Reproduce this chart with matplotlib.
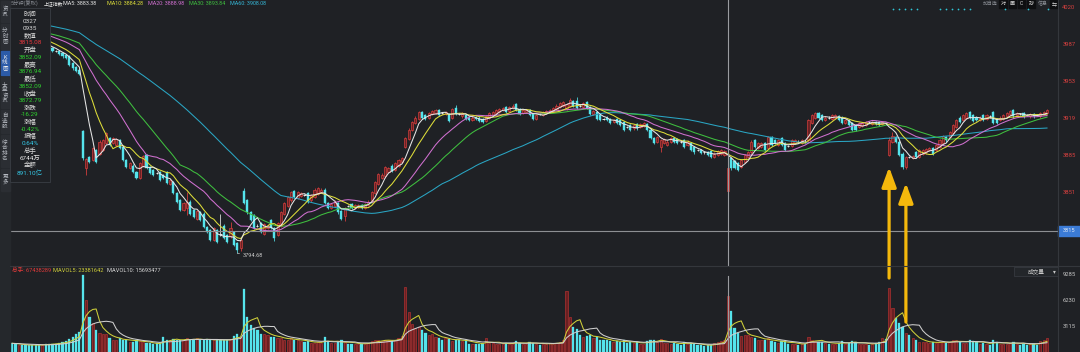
import numpy as np
import pandas as pd
import matplotlib
matplotlib.use("Agg")
import matplotlib.pyplot as plt
from matplotlib.patches import Rectangle
from matplotlib.transforms import blended_transform_factory

plt.rcParams['font.family'] = ['Roboto', 'Noto Sans CJK SC', 'DejaVu Sans']

# ---------------- data ----------------
# closes / volumes before the first drawn candle (only used to seed the moving averages)
hist_close = [4018, 4016, 4015, 4017, 4014, 4012, 4013, 4011, 4010, 4012, 4014, 4013, 4011, 4009, 4008,
              4010, 4012, 4011, 4009, 4007, 4008, 4010, 4009, 4007, 4006, 4005, 4007, 4008, 4006, 4004,
              4004, 4002, 4001, 4003, 4000, 3999, 4000, 3998, 3997, 3996,
              4003, 4001, 4000, 4002, 3999, 3998, 4000, 3997]
hist_volume = [1100, 1050, 1000, 1150, 1000, 950, 1050, 1000, 1100, 1000]

open_ = [
    3997, 3996.5, 3994.5, 3996, 3994.5, 3993, 3991.5, 3990, 3988.5, 3985, 3986,
    3985, 3983, 3980, 3980, 3978, 3976, 3975, 3969, 3965, 3963,
    3907, 3873, 3883, 3880, 3889, 3886, 3889, 3896, 3900, 3896, 3894, 3898, 3892, 3880, 3873, 3875,
    3869, 3864, 3875, 3885, 3874, 3871, 3868, 3869, 3866, 3869, 3858, 3860, 3850, 3843, 3834, 3836,
    3842, 3834, 3826, 3832, 3831, 3819, 3816, 3807, 3816, 3812, 3820, 3811, 3810, 3814, 3804, 3799,
    3852, 3843, 3832, 3830, 3820, 3822, 3812, 3818, 3825, 3818, 3811, 3820, 3831, 3838, 3843, 3852,
    3845, 3847, 3848, 3850, 3843, 3846, 3849, 3851, 3853, 3841, 3836, 3838, 3841, 3833, 3829, 3838,
    3840, 3836, 3837, 3839, 3836, 3839, 3842, 3850, 3858, 3864, 3865, 3869, 3875, 3871, 3875, 3878,
    3892, 3899, 3908, 3914, 3918, 3924, 3921, 3919, 3922, 3923, 3926, 3923, 3922, 3922, 3919, 3928,
    3922, 3920, 3921, 3919, 3917, 3919, 3919, 3918, 3916, 3919, 3921, 3923, 3924, 3926, 3929, 3925,
    3928, 3931, 3927, 3923, 3924, 3926, 3922, 3918, 3922, 3921, 3923, 3924, 3925, 3927, 3929, 3930,
    3927, 3930, 3934, 3934, 3930, 3929, 3933, 3929, 3922, 3924, 3921, 3918, 3919, 3918, 3915, 3918,
    3917, 3915, 3910, 3912, 3909, 3913, 3910, 3911, 3913, 3908, 3900, 3897, 3892, 3896, 3894, 3897,
    3900, 3899, 3897, 3898, 3894, 3896, 3892, 3889, 3889.5, 3887, 3887, 3888, 3883, 3885, 3886, 3885,
    3852.09, 3882, 3879, 3877, 3874, 3878, 3883, 3887, 3898, 3891, 3892, 3896, 3891, 3901, 3898, 3894,
    3900, 3896, 3893, 3893, 3896, 3897, 3896, 3897, 3898, 3914, 3919, 3923, 3921, 3917, 3919, 3918,
    3919, 3920, 3919, 3914, 3917, 3914, 3912, 3910, 3911, 3912, 3915, 3913, 3915, 3915, 3913, 3914,
    3885, 3897, 3901, 3897, 3886, 3874, 3883, 3882, 3887, 3883, 3886, 3887, 3889, 3891, 3889, 3892,
    3896, 3901, 3901, 3905, 3910, 3919, 3917, 3919, 3924, 3921, 3919, 3917, 3921, 3918, 3920, 3924,
    3918, 3917, 3918, 3920, 3922, 3926, 3921, 3922, 3923, 3921, 3920, 3922, 3921, 3920, 3922, 3923,
]
high = [
    3998, 3997, 3997, 3997, 3995, 3994, 3992, 3991, 3989, 3987, 3987,
    3986, 3984, 3981, 3981, 3979, 3977, 3976, 3970, 3966, 3964,
    3908, 3882, 3884, 3892, 3890, 3898, 3899, 3906, 3901, 3901, 3900, 3899, 3893, 3881, 3878, 3876,
    3870, 3878, 3885, 3886, 3875, 3872, 3869, 3870, 3867, 3870, 3863, 3861, 3851, 3844, 3842, 3851,
    3843, 3835, 3834, 3833, 3832, 3820, 3817, 3819, 3817, 3831, 3821, 3812, 3823, 3815, 3805, 3808,
    3854, 3844, 3833, 3831, 3821, 3823, 3822, 3821, 3826, 3819, 3823, 3833, 3842, 3847, 3852, 3853,
    3852, 3851, 3849, 3851, 3849, 3854, 3855, 3854, 3854, 3842, 3841, 3843, 3842, 3834, 3837, 3839,
    3841, 3840, 3840, 3840, 3841, 3843, 3852, 3861, 3868, 3868, 3875, 3874, 3876, 3878, 3881, 3883,
    3901, 3909, 3916, 3920, 3925, 3925, 3922, 3924, 3926, 3927, 3927, 3924, 3925, 3923, 3928, 3930.5,
    3923, 3924, 3922, 3920, 3920, 3920, 3920, 3919, 3921, 3924, 3925, 3927, 3928, 3929, 3930, 3930,
    3931, 3932, 3928, 3927, 3927, 3927, 3923, 3922, 3923, 3925, 3926, 3927, 3929, 3931, 3933, 3934,
    3932, 3937, 3935, 3938, 3931, 3933, 3934, 3930, 3926, 3925, 3922, 3919, 3920, 3919, 3918, 3919,
    3918, 3916, 3911, 3913, 3913, 3914, 3914, 3915, 3914, 3909, 3901, 3902, 3899, 3900, 3898, 3901,
    3901, 3900, 3898, 3899, 3898, 3897, 3893, 3890, 3890, 3888, 3888, 3889, 3887, 3889, 3890, 3889,
    3876.94, 3883, 3880, 3878, 3881, 3886, 3888, 3898, 3899, 3897, 3897, 3897, 3902, 3902, 3899, 3899,
    3901, 3897, 3894, 3899, 3899, 3898, 3899, 3898, 3918, 3922, 3924, 3924, 3922, 3920, 3920, 3922,
    3922, 3921, 3920, 3918, 3918, 3915, 3913, 3915, 3915, 3916, 3916, 3916, 3916, 3916, 3916, 3915,
    3901, 3906, 3902, 3898, 3887, 3884, 3884, 3885, 3888, 3890, 3890, 3891, 3892, 3892, 3895, 3899,
    3903, 3902, 3907, 3913, 3918, 3920, 3922, 3924, 3925, 3922, 3920, 3920, 3922, 3922, 3921, 3925,
    3919, 3920, 3922, 3924, 3926, 3927, 3924, 3923, 3924, 3922, 3923, 3923, 3922, 3924, 3925, 3927,
]
low = [
    3995, 3994, 3994, 3993, 3992, 3990, 3989, 3987, 3986, 3984, 3983,
    3981, 3979, 3979, 3976, 3974, 3973, 3966, 3963, 3961, 3958,
    3880, 3866, 3877, 3879, 3877, 3885, 3888, 3895, 3893, 3895, 3893, 3890, 3879, 3873, 3872, 3868,
    3863, 3863, 3874, 3872, 3867, 3865, 3867, 3861, 3863, 3858, 3857, 3849, 3841, 3833, 3833, 3830,
    3830, 3827, 3825, 3824, 3818, 3813, 3806, 3806, 3804, 3810, 3808, 3804, 3809, 3801, 3794.68, 3797,
    3840, 3831, 3824, 3817, 3819, 3813, 3811, 3817, 3817, 3806, 3810, 3819, 3830, 3837, 3842, 3845,
    3844, 3846, 3847, 3841, 3842, 3845, 3848, 3850, 3840, 3835, 3835, 3837, 3831, 3825, 3824, 3837,
    3835, 3835, 3836, 3835, 3835, 3838, 3841, 3849, 3857, 3863, 3864, 3868, 3869, 3870, 3874, 3877,
    3891, 3898, 3907, 3913, 3917, 3918, 3917, 3918, 3921, 3922, 3920, 3922, 3921, 3915, 3918, 3921,
    3921, 3919, 3917, 3916, 3916, 3917, 3915, 3914, 3915, 3918, 3920, 3922, 3923, 3925, 3923, 3924,
    3927, 3925, 3921, 3922, 3923, 3920, 3917, 3917, 3921, 3920, 3922, 3923, 3924, 3926, 3928, 3929,
    3926, 3929, 3929, 3927, 3929, 3928, 3927, 3921, 3921, 3917, 3916, 3917, 3916, 3913, 3914, 3913,
    3911, 3907, 3909, 3907, 3908, 3908, 3909, 3910, 3907, 3899, 3895, 3896, 3887, 3895, 3893, 3896,
    3896, 3895, 3896, 3891, 3893, 3888, 3886, 3888, 3886, 3886, 3884, 3882, 3882, 3884, 3885, 3884,
    3852.09, 3871, 3872, 3870, 3873, 3877, 3882, 3886, 3891, 3890, 3891, 3888, 3890, 3893, 3895, 3893,
    3893, 3888, 3892, 3892, 3895, 3896, 3895, 3896, 3897, 3913, 3918, 3918, 3916, 3916, 3918, 3917,
    3918, 3916, 3913, 3913, 3911, 3907, 3907, 3909, 3910, 3911, 3914, 3912, 3912, 3911, 3912, 3913,
    3884, 3896, 3896, 3884, 3872, 3871.5, 3882, 3881, 3882, 3882, 3885, 3886, 3888, 3885, 3888, 3891,
    3895, 3897, 3900, 3904, 3909, 3914, 3916, 3918, 3918, 3915, 3916, 3916, 3916, 3917, 3919, 3913,
    3913, 3916, 3917, 3919, 3921, 3919, 3920, 3921, 3919, 3920, 3919, 3919, 3920, 3919, 3921, 3922,
]
close = [
    3996, 3995, 3996, 3994, 3993, 3991, 3990, 3988, 3987, 3986, 3984,
    3982, 3980, 3980, 3977, 3975, 3974, 3967, 3964, 3962, 3959,
    3882, 3881, 3878, 3891, 3878, 3897, 3898, 3905, 3894, 3900, 3899, 3891, 3880, 3874, 3877, 3869,
    3864, 3877, 3884, 3873, 3868, 3866, 3868, 3862, 3864, 3859, 3862, 3850, 3842, 3834, 3841, 3842,
    3831, 3828, 3833, 3825, 3819, 3814, 3807, 3818, 3805, 3812, 3809, 3805, 3818, 3802, 3798, 3807,
    3841, 3832, 3825, 3818, 3820, 3814, 3821, 3820, 3818, 3809, 3822, 3832, 3841, 3846, 3851, 3846,
    3851, 3850, 3848, 3842, 3848, 3853, 3854, 3853, 3841, 3836, 3840, 3842, 3832, 3826, 3836, 3838,
    3836, 3839, 3839, 3836, 3840, 3842, 3851, 3860, 3867, 3866, 3874, 3873, 3870, 3877, 3880, 3882,
    3900, 3908, 3915, 3919, 3924, 3919, 3918, 3923, 3925, 3926, 3921, 3923, 3924, 3916, 3927, 3922,
    3922, 3923, 3918, 3917, 3919, 3918, 3916, 3915, 3920, 3923, 3924, 3926, 3927, 3928, 3924, 3929,
    3930, 3926, 3922, 3926, 3926, 3921, 3918, 3921, 3922, 3924, 3925, 3926, 3928, 3930, 3932, 3933,
    3931, 3935, 3930, 3928, 3930, 3932, 3928, 3922, 3925, 3918, 3917, 3918, 3917, 3914, 3917, 3914,
    3912, 3908, 3910, 3908, 3912, 3909, 3913, 3914, 3908, 3900, 3896, 3901, 3898, 3899, 3897, 3900,
    3897, 3896, 3897, 3892, 3897, 3889, 3887, 3889, 3886.5, 3887, 3885, 3883, 3886, 3888, 3889, 3888,
    3872.79, 3873, 3873, 3871, 3880, 3885, 3887, 3897, 3892, 3896, 3896, 3889, 3901, 3894, 3896, 3898,
    3894, 3889, 3893, 3898, 3898, 3897, 3898, 3897, 3917, 3921, 3923, 3919, 3917, 3919, 3919, 3921,
    3921, 3917, 3914, 3917, 3912, 3908, 3908, 3914, 3914, 3915, 3915, 3915, 3913, 3912, 3915, 3914,
    3898, 3902, 3897, 3885, 3874, 3883, 3883, 3884, 3883, 3889, 3889, 3890, 3891, 3886, 3894, 3898,
    3902, 3898, 3906, 3912, 3917, 3915, 3921, 3923, 3919, 3916, 3917, 3919, 3917, 3921, 3920, 3914,
    3914, 3919, 3921, 3923, 3925, 3920, 3923, 3922, 3920, 3921, 3922, 3920, 3921, 3923, 3924, 3926,
]
# volume in 万手
volume = [
    1070, 950, 820, 820, 820, 820, 900, 820, 860, 820, 1000,
    1000, 1000, 1000, 1070, 1230, 1350, 1550, 1760, 2170, 2370,
    9285, 6260, 4250, 3450, 2650, 2250, 2150, 2150, 1720, 1450, 1450, 1650, 1450, 1450, 1240, 1240,
    1450, 1350, 1150, 1040, 1040, 950, 1040, 1040, 1840, 1450, 1450, 1550, 1450, 1450, 1450, 1700,
    1450, 1500, 1650, 1450, 1450, 1550, 1450, 1450, 1450, 1450, 1450, 1450, 1550, 1970, 2130, 1850,
    7590, 4250, 3250, 2930, 2650, 2130, 2130, 2050, 1850, 1850, 1650, 1730, 1450, 1450, 1650, 1450,
    1450, 1300, 1200, 1300, 1100, 1100, 1200, 1100, 1800, 1300, 1100, 1100, 1200, 1400, 1200, 1000,
    1000, 1000, 1000, 1000, 1000, 1100, 1300, 1400, 1500, 1300, 1500, 1400, 1300, 1500, 1700, 1900,
    7860, 4850, 3330, 2900, 3050, 2700, 2250, 2050, 2130, 1850, 1650, 1450, 1650, 1550, 1330, 1450,
    1450, 1330, 1450, 1000, 1000, 1000, 1000, 1000, 1650, 1100, 1100, 1000, 1000, 1000, 1100, 1000,
    1000, 1300, 1100, 1000, 1000, 1200, 1100, 1000, 900, 1000, 1000, 1100, 1000, 1100, 1200, 1400,
    7340, 4250, 3050, 2730, 2050, 1850, 1930, 2050, 1650, 1850, 1450, 1450, 1450, 1300, 1200, 1300,
    1200, 1400, 1100, 1200, 1100, 1200, 1000, 1000, 1300, 1500, 1450, 1200, 1600, 1100, 1100, 1000,
    1100, 1000, 900, 1200, 1000, 1100, 1000, 800, 900, 700, 800, 900, 1100, 1200, 1300, 1400,
    6744, 4900, 2850, 2250, 1970, 2050, 2050, 1850, 1730, 1450, 1450, 1450, 1650, 1300, 1200, 1100,
    1300, 1300, 1000, 1000, 1000, 900, 1000, 1000, 1800, 1500, 1300, 1200, 1200, 1100, 1000, 1000,
    1000, 1100, 1300, 1000, 1100, 1300, 1200, 1000, 1000, 1000, 900, 1000, 1100, 1200, 1700, 1600,
    7700, 5300, 4130, 3450, 3050, 2250, 2000, 1700, 1450, 1250, 1200, 1200, 1100, 1200, 1100, 1200,
    1300, 1100, 1200, 1400, 1450, 1250, 1100, 1100, 1450, 1300, 1200, 1000, 1100, 1000, 900, 1400,
    1200, 1000, 1000, 1000, 1100, 1200, 1000, 900, 1000, 900, 1000, 1000, 900, 1300, 1500, 1700,
]

cross_index = 213            # candle under the crosshair (03-27 09:35)
cross_value = 3815.08
low_mark_index, low_mark_value = 67, 3794.68
arrow_indices = [261, 266]

price_ticks = [4020.0, 3986.1, 3952.2, 3918.3, 3884.4, 3850.5]
price_tick_labels = ["4020", "3987", "3953", "3919", "3885", "3851"]
vol_ticks = [9285, 6230, 3115]

header_items = [("MA5: 3883.38", "#e6e6e6"), ("MA10: 3884.28", "#dede3a"), ("MA20: 3888.98", "#d070d0"),
                ("MA30: 3893.84", "#3fbf3f"), ("MA60: 3908.08", "#35b6d6")]
panel_rows = [("时间", "#d8d8d8"), ("0327", "#d8d8d8"), ("0935", "#d8d8d8"), ("数值", "#d8d8d8"),
              ("3815.08", "#e8383d"), ("开盘", "#d8d8d8"), ("3852.09", "#2fd02f"), ("最高", "#d8d8d8"),
              ("3876.94", "#2fd02f"), ("最低", "#d8d8d8"), ("3852.09", "#2fd02f"), ("收盘", "#d8d8d8"),
              ("3872.79", "#2fd02f"), ("涨跌", "#d8d8d8"), ("-16.29", "#2fd02f"), ("涨幅", "#d8d8d8"),
              ("-0.42%", "#2fd02f"), ("振幅", "#d8d8d8"), ("0.64%", "#35c8e6"), ("总手", "#d8d8d8"),
              ("6744万", "#e6e6e6"), ("金额", "#d8d8d8"), ("891.10亿", "#35c8e6")]
side_tabs = ["资讯", "分时图", "K线图", "大盘资讯", "自选股", "综合排名", "更多"]

# ---------------- prep ----------------
n = min(len(open_), len(high), len(low), len(close), len(volume))
o = np.array(open_[:n], float)
h = np.array(high[:n], float)
l = np.array(low[:n], float)
c = np.array(close[:n], float)
v = np.array(volume[:n], float)
k = np.arange(n)

full_close = pd.Series(np.concatenate([hist_close, c]))
ma = {w: full_close.rolling(w).mean().to_numpy()[len(hist_close):] for w in (5, 10, 20, 30, 60)}
full_vol = pd.Series(np.concatenate([hist_volume, v]))
mavol = {w: full_vol.rolling(w).mean().to_numpy()[len(hist_volume):] for w in (5, 10)}

BG = "#1f2125"
UP_EDGE, UP_FACE = "#e0403f", "#6a2224"
DN = "#55e4ec"
DOJI = "#e8e8e8"
MA_COL = {5: "#e6e6e6", 10: "#dede3a", 20: "#d070d0", 30: "#3fbf3f", 60: "#2aa6c4"}
FS = 4.1

W, H = 1080, 352
fig = plt.figure(figsize=(W / 100, H / 100), dpi=100, facecolor=BG)

PL, PR = 11, 1058
PT, PB = 0, 265.7
VB = 352
SLOT = 3.36
X0 = 12.14
xlim = ((PL - X0) / SLOT, (PR - X0) / SLOT)

ax = fig.add_axes([PL / W, 1 - PB / H, (PR - PL) / W, (PB - PT) / H])
axv = fig.add_axes([PL / W, 0, (PR - PL) / W, (VB - PB) / H])
for a in (ax, axv):
    a.set_facecolor(BG)
    a.set_xlim(*xlim)
    for s in a.spines.values():
        s.set_visible(False)
    a.set_xticks([])
    a.set_yticks([])
ax.set_ylim(3783.2, 4026.7)
axv.set_ylim(0, 10390)
ax.set_zorder(5)
axv.set_zorder(4)

up = c > o + 0.3
dn = c < o - 0.3
dj = ~(up | dn)

wick_col = np.where(up, UP_EDGE, np.where(dn, DN, DOJI))
ax.vlines(k, l, h, colors=list(wick_col), linewidth=0.55, zorder=2)
bw = 0.64
ax.bar(k[up], (c - o)[up], bottom=o[up], width=bw, color=UP_FACE, edgecolor=UP_EDGE, linewidth=0.45, zorder=3)
ax.bar(k[dn], (o - c)[dn], bottom=c[dn], width=bw, color=DN, edgecolor=DN, linewidth=0.3, zorder=3)
ax.hlines(c[dj], k[dj] - bw / 2, k[dj] + bw / 2, colors=DOJI, linewidth=0.7, zorder=3)

for w in (60, 30, 20, 10, 5):
    ax.plot(k, ma[w], color=MA_COL[w], linewidth=0.75, zorder=4)

# crosshair
ax.axhline(cross_value, color="#8d8f93", linewidth=0.8, zorder=6)
ax.axvline(cross_index, color="#9a9ca0", linewidth=0.8, zorder=6)
axv.axvline(cross_index, ymin=0, ymax=0.88, color="#9a9ca0", linewidth=0.8, zorder=6)

# low mark
ax.annotate(f"{low_mark_value:.2f}", xy=(low_mark_index, low_mark_value), xytext=(5, -2),
            textcoords="offset pixels", color="#c8c8c8", fontsize=FS, va="center", ha="left",
            arrowprops=dict(arrowstyle="-", color="#c8c8c8", lw=0.5, shrinkA=0, shrinkB=0), zorder=7)

# volume
vup = up
vdn = ~up
axv.bar(k[vup], v[vup], width=0.66, color="#6b2022", edgecolor="#c53434", linewidth=0.4, zorder=2)
axv.bar(k[vdn], v[vdn], width=0.66, color=DN, edgecolor=DN, linewidth=0.2, zorder=2)
axv.plot(k, mavol[5], color="#d0d03a", linewidth=0.75, zorder=3)
axv.plot(k, mavol[10], color="#cfcfcf", linewidth=0.75, zorder=3)

# arrows
arrow_tip = [3873.6, 3859.0]
arrow_tail = [3771.9, 3731.6]
for idx, tip, tail in zip(arrow_indices, arrow_tip, arrow_tail):
    ax.annotate("", xy=(idx, tip), xytext=(idx, tail), annotation_clip=False,
                arrowprops=dict(arrowstyle="-|>,head_length=0.6,head_width=0.22", color="#f4b80c",
                                lw=2.3, shrinkA=0, shrinkB=0, mutation_scale=20), zorder=9)

# right axis labels
tp = blended_transform_factory(ax.transAxes, ax.transData)
for val, lab in zip(price_ticks, price_tick_labels):
    ax.text((1069 - PL) / (PR - PL), val, lab, transform=tp, color="#d8403f", fontsize=FS + 0.1,
            ha="center", va="center", clip_on=False)
tv = blended_transform_factory(axv.transAxes, axv.transData)
for val in vol_ticks:
    axv.text((1069 - PL) / (PR - PL), val, str(val), transform=tv, color="#c4c4c4", fontsize=FS + 0.1,
             ha="center", va="center", clip_on=False)

# ---------------- overlay (pixel coordinates) ----------------
ov = fig.add_axes([0, 0, 1, 1])
ov.set_xlim(0, W)
ov.set_ylim(H, 0)
ov.axis("off")
ov.set_zorder(10)
ov.patch.set_alpha(0)

ov.plot([10, W], [PB, PB], color="#34373c", lw=0.8)
ov.plot([PR, PR], [0, H], color="#34373c", lw=0.8)

y_cross = (4026.7 - cross_value) / (4026.7 - 3783.2) * PB
ov.add_patch(Rectangle((PR, y_cross - 4.7), W - PR, 9.4, color="#3b7bd6"))
ov.text(1069, y_cross, "3815", color="#e8eef8", fontsize=FS, ha="center", va="center")

# left tab strip
ov.add_patch(Rectangle((0, 0), 10, H, color="#25282c"))
tab_bounds = [(0, 22), (23, 49), (50, 75), (76, 108), (109, 133), (134, 167), (168, 191)]
for (y0, y1), name in zip(tab_bounds, side_tabs):
    active = name == "K线图"
    ov.add_patch(Rectangle((0.5, y0 + 0.5), 9, y1 - y0 - 1, color="#2c5ba8" if active else "#2b2e33"))
    ov.text(5, (y0 + y1) / 2, "\n".join(name), color="#f0f0f0" if active else "#b5b9c0",
            fontsize=4.0, ha="center", va="center", linespacing=1.05)

# info panel
ov.add_patch(Rectangle((10, 8), 40, 174, facecolor=BG, edgecolor="#3a3e45", lw=0.6))
for i, (txt, col) in enumerate(panel_rows):
    ov.text(30, 14 + i * 7.2, txt, color=col, fontsize=4.6, ha="center", va="center")

# header row
ov.text(11, 3.5, "5分钟(复权)", color="#8a8e95", fontsize=3.8, ha="left", va="center")
ov.text(44, 3.5, "上证指数", color="#e8e8e8", fontsize=3.5, ha="left", va="center")
hx = [63, 107, 148, 189, 230]
for x, (txt, col) in zip(hx, header_items):
    ov.text(x, 3.5, txt, color=col, fontsize=3.9, ha="left", va="center")

# volume header
ov.text(12, 270.7, "总手: 67438289", color="#e03a3a", fontsize=FS, ha="left", va="center")
ov.text(53, 270.7, "MAVOL5: 23381642", color="#d0d03a", fontsize=FS, ha="left", va="center")
ov.text(107, 270.7, "MAVOL10: 15693477", color="#d8d8d8", fontsize=FS, ha="left", va="center")

# volume selector
ov.add_patch(Rectangle((1014, 266.5), 44, 9.5, facecolor="#23262a", edgecolor="#3a3e45", lw=0.5))
ov.text(1036, 271.2, "成交量", color="#c8c8c8", fontsize=FS, ha="center", va="center")
ov.text(1054, 271.2, "▾", color="#c8c8c8", fontsize=FS, ha="center", va="center")

# top-right toolbar
ov.text(997.5, 3.6, "加自选", color="#8a8e95", fontsize=3.5, ha="right", va="center")
tools = [("对", 1003), ("画", 1012.5), ("C", 1021.5), ("抄", 1031)]
for t, x in tools:
    ov.add_patch(Rectangle((x - 3.6, 0), 7.2, 8, color="#0e0f11"))
    ov.text(x, 3.8, t, color="#e0e0e0", fontsize=3.6, ha="center", va="center")
ov.text(1043, 3.8, "信息", color="#8a8e95", fontsize=3.6, ha="center", va="center")
ov.add_patch(Rectangle((1050, 0), 8, 8, color="#0e0f11"))
ov.text(1054, 3.8, "⇆", color="#e0e0e0", fontsize=3.6, ha="center", va="center")
dots_x = [893, 899, 905, 911, 917, 940, 946, 952, 958, 964, 970, 1005, 1028, 1048]
ov.scatter(dots_x, [8.8] * len(dots_x), s=1.6, color="#2fc6d6", linewidths=0)

fig.savefig("out.png", dpi=100, facecolor=BG)
